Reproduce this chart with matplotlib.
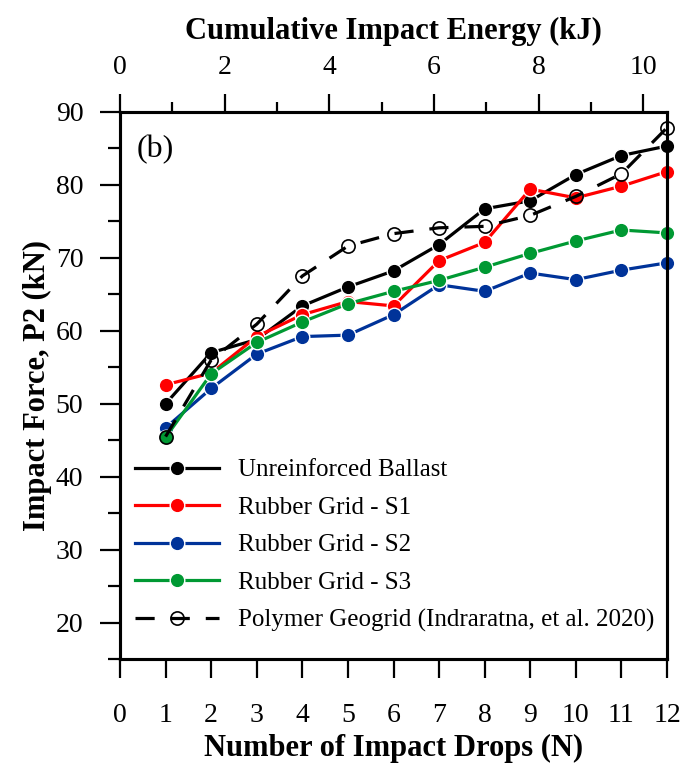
import matplotlib
matplotlib.use("Agg")
import matplotlib.pyplot as plt
import numpy as np

plt.rcParams["font.family"] = ["Liberation Serif", "DejaVu Serif"]

# Data
drops = [1, 2, 3, 4, 5, 6, 7, 8, 9, 10, 11, 12]
unreinforced = [50.0, 57.0, 58.8, 63.4, 66.0, 68.2, 71.8, 76.7, 77.8, 81.4, 84.0, 85.3]
rubber_s1 = [52.6, 54.2, 59.2, 62.2, 64.0, 63.4, 69.6, 72.1, 79.4, 78.2, 79.8, 81.8]
rubber_s2 = [46.7, 52.1, 56.8, 59.2, 59.4, 62.2, 66.3, 65.4, 67.9, 67.0, 68.3, 69.3]
rubber_s3 = [45.4, 54.1, 58.4, 61.2, 63.7, 65.4, 66.9, 68.7, 70.6, 72.3, 73.8, 73.4]
polymer = [45.5, 56.0, 60.9, 67.5, 71.6, 73.3, 74.1, 74.3, 75.8, 78.4, 81.5, 87.8]

labels = [
    "Unreinforced Ballast",
    "Rubber Grid - S1",
    "Rubber Grid - S2",
    "Rubber Grid - S3",
    "Polymer Geogrid (Indraratna, et al. 2020)",
]
colors = ["#000000", "#ff0000", "#003399", "#009933"]

energy_at_12 = 10.45  # kJ at 12 drops (top axis scale)

fig = plt.figure(figsize=(6.99, 7.71), dpi=100)
ax = fig.add_axes([0.1717, 0.1449, 0.7825, 0.7102])

# Solid series with filled markers
for vals, col, lab in zip([unreinforced, rubber_s1, rubber_s2, rubber_s3], colors, labels[:4]):
    ax.plot(drops, vals, color=col, lw=2.3, marker="o", ms=10.5,
            markerfacecolor=col, markeredgecolor="white", markeredgewidth=1.0,
            label=lab, clip_on=False, zorder=3)

# Dashed series with open markers
ax.plot(drops, polymer, color="black", lw=2.3, linestyle=(0, (6, 5)),
        marker="o", ms=9.5, markerfacecolor="none", markeredgecolor="black",
        markeredgewidth=1.2, label=labels[4], clip_on=False, zorder=4)

ax.set_xlim(0, 12)
ax.set_ylim(15, 90)
ax.set_xticks(np.arange(0, 13, 1))
ax.set_yticks(np.arange(20, 91, 10))
ax.set_yticks(np.arange(15, 90, 10), minor=True)

ax.tick_params(axis="x", direction="out", length=13.7, width=1.6, labelsize=20, pad=18)
ax.tick_params(axis="y", which="major", direction="out", length=14.4, width=1.6,
               labelsize=20, pad=12)
ax.tick_params(axis="y", which="minor", direction="out", length=8.6, width=1.6)

for sp in ax.spines.values():
    sp.set_linewidth(2.2)
    sp.set_zorder(10)

ax.set_xlabel("Number of Impact Drops (N)", fontsize=22, fontweight="bold", labelpad=4)
ax.set_ylabel("Impact Force, P2 (kN)", fontsize=22, fontweight="bold", labelpad=3)

ax.text(0.03, 0.93, "(b)", transform=ax.transAxes, fontsize=23, va="center", ha="left")

# Top axis: cumulative impact energy
top = ax.twiny()
top.set_xlim(0, energy_at_12)
top.set_xticks(np.arange(0, 11, 2))
top.set_xticks(np.arange(1, 11, 2), minor=True)
top.tick_params(axis="x", which="major", direction="out", length=13, width=1.6,
                labelsize=20, pad=10)
top.tick_params(axis="x", which="minor", direction="out", length=7, width=1.6)
for sp in top.spines.values():
    sp.set_linewidth(2.2)
    sp.set_zorder(10)
top.set_xlabel("Cumulative Impact Energy (kJ)", fontsize=22, fontweight="bold", labelpad=11)

ax.legend(loc="upper left", bbox_to_anchor=(0.027, 0.366), frameon=False,
          fontsize=18, handlelength=3.36, handletextpad=0.76, labelspacing=0.6,
          borderpad=0, borderaxespad=0)

fig.savefig("out.png", dpi=100)
